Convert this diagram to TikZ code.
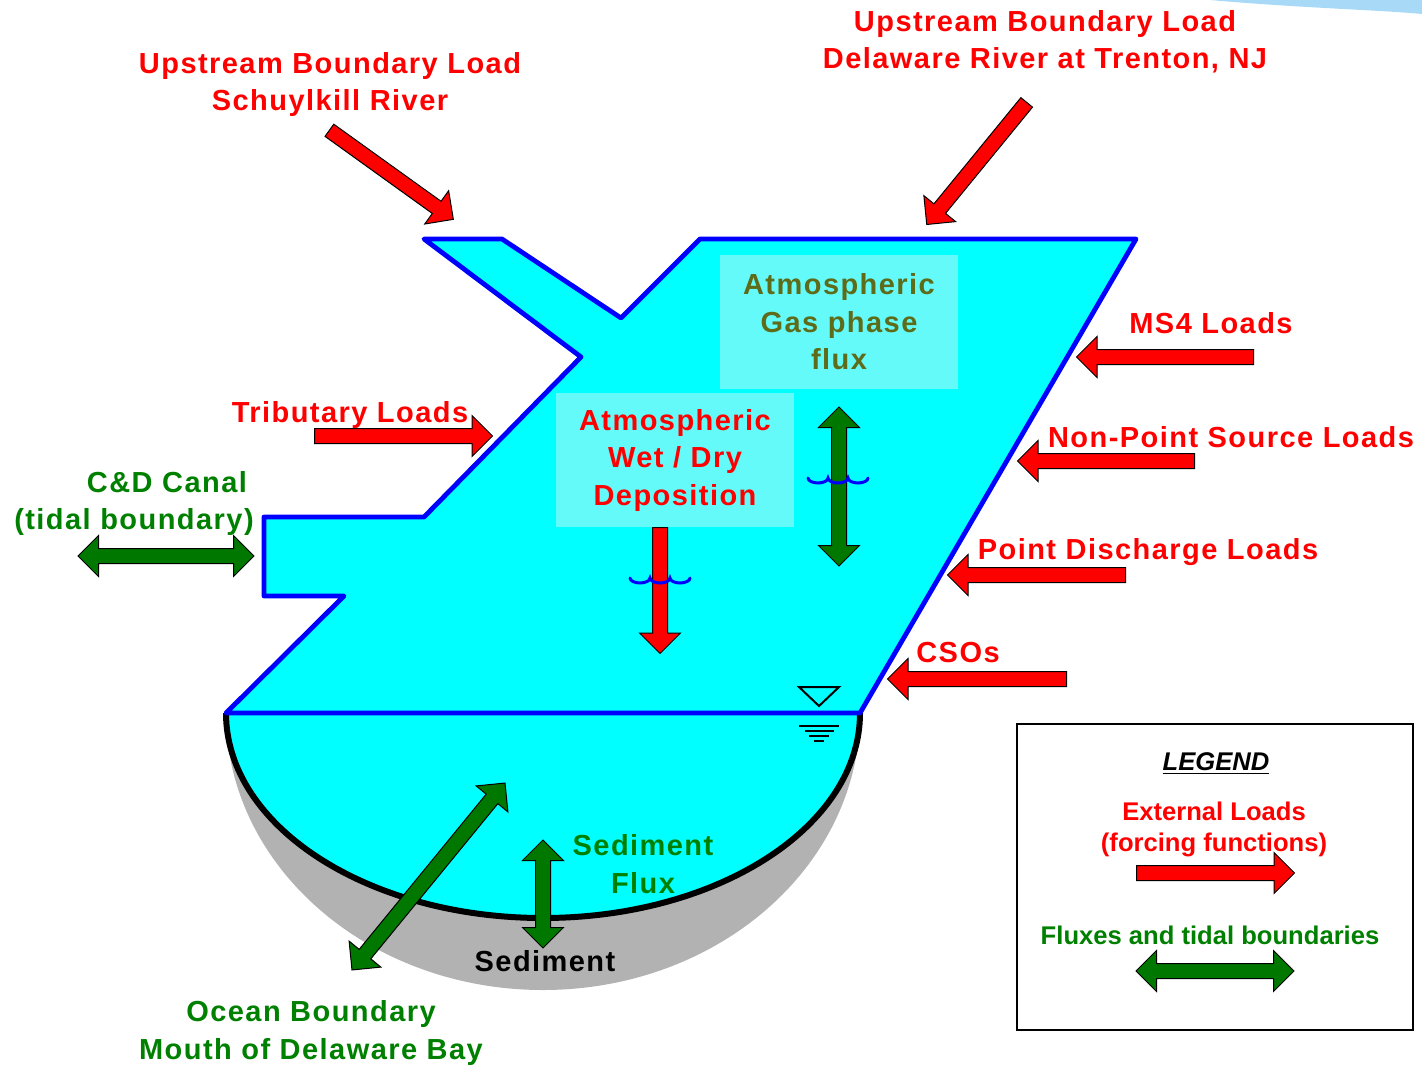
\documentclass[tikz,border=0pt]{standalone}
\usepackage{fontspec}
\setmainfont{Liberation Sans}
\newfontfamily\lblfont{Liberation Sans}[LetterSpace=5]
\usetikzlibrary{shapes.arrows}

\definecolor{loadred}{RGB}{255,0,0}
\definecolor{fluxtxt}{RGB}{0,128,0}
\definecolor{fluxgreen}{RGB}{0,120,0}
\definecolor{gastxt}{RGB}{94,108,26}
\definecolor{water}{RGB}{0,255,255}
\definecolor{waterblue}{RGB}{0,0,255}
\definecolor{panelfill}{RGB}{100,250,250}
\definecolor{sedgrey}{RGB}{178,178,178}
\definecolor{skyblue}{RGB}{168,218,248}

\begin{document}
\begin{tikzpicture}[x=0.5pt,y=-0.5pt,
  lbl/.style={font={\lblfont\bfseries\fontsize{14.5}{18.75}\selectfont},align=center,inner sep=0pt,anchor=base},
  leg/.style={font={\bfseries\fontsize{12.8}{15.5}\selectfont},align=center,inner sep=0pt,anchor=base},
  panel/.style={fill=panelfill,minimum width=119pt,minimum height=67pt,inner sep=0pt,align=center,
                font={\lblfont\bfseries\fontsize{14.5}{18.75}\selectfont}},
  loadarrow/.style={single arrow,draw=black,line width=0.5pt,fill=loadred,inner xsep=0pt,inner ysep=3.5pt,
                    single arrow head extend=6.5pt,single arrow tip angle=90,anchor=tail},
  fluxarrow/.style={double arrow,draw=black,line width=0.5pt,fill=fluxgreen,inner xsep=0pt,inner ysep=3.5pt,
                    double arrow head extend=6.5pt,double arrow tip angle=90},
  wave/.style={waterblue,line width=1.5pt,line cap=round}]

\useasboundingbox (0,0) rectangle (1422,1064);

% corner of the slide background
\fill[skyblue] (1210,0) .. controls (1300,8) and (1380,10) .. (1422,14) -- (1422,0) -- cycle;

% sediment bed and bottom water
\fill[sedgrey] (226,713) arc[start angle=180,end angle=0,x radius=317,y radius=277] -- cycle;
\fill[water] (226,713) arc[start angle=180,end angle=0,x radius=317,y radius=205] -- cycle;
\draw[line width=3pt] (226,713) arc[start angle=180,end angle=0,x radius=317,y radius=205];

% estuary surface
\filldraw[fill=water,draw=waterblue,line width=2.4pt,line join=round]
  (424,239) -- (502,239) -- (621,318) -- (700,239) -- (1136,239) -- (860,713) -- (226,713)
  -- (344,596) -- (264,596) -- (264,517) -- (424,517) -- (581,357) -- cycle;

% water level mark
\draw[line width=1pt] (799,687) -- (839,687) -- (819,706) -- cycle;
\draw[line width=1pt] (799,726) -- (839,726) (805,731) -- (834,731) (809,736) -- (829,736) (814,741) -- (824,741);

% atmospheric panels
\node[panel,text=gastxt] (gas) at (839,322) {Atmospheric\\Gas phase\\flux};
\node[panel,text=loadred] (wetdry) at (675,460) {Atmospheric\\Wet / Dry\\Deposition};

% external loads
\node[loadarrow,minimum height=76.3pt,rotate=-35.7] (aschuyl) at (329,130) {};
\node[loadarrow,minimum height=78.9pt,rotate=-129.3] (atrenton) at (1027,102) {};
\node[loadarrow,minimum height=88.5pt,rotate=180] (ams4) at (1254,357) {};
\node[loadarrow,minimum height=88.5pt,rotate=180] (anps) at (1195,461) {};
\node[loadarrow,minimum height=89pt,rotate=180] (apdl) at (1126,575) {};
\node[loadarrow,minimum height=89.5pt,rotate=180] (acso) at (1067,679) {};
\node[loadarrow,minimum height=89pt] (atrib) at (314,436) {};
\node[loadarrow,minimum height=63pt,rotate=-90] (adep) at (660,527) {};

% fluxes
\node[fluxarrow,minimum height=88pt] (acanal) at (166,556) {};
\node[fluxarrow,minimum height=79.5pt,rotate=90] (agas) at (839,486.5) {};
\node[fluxarrow,minimum height=120.8pt,rotate=50.7] (aocean) at (428.5,876.5) {};
\node[fluxarrow,minimum height=54pt,rotate=90] (ased) at (543,894) {};

% surface waves
\draw[wave] (808,478) arc[start angle=180,end angle=0,x radius=10,y radius=5]
  arc[start angle=180,end angle=0,x radius=10,y radius=5] arc[start angle=180,end angle=0,x radius=10,y radius=5];
\draw[wave] (630,578) arc[start angle=180,end angle=0,x radius=10,y radius=5]
  arc[start angle=180,end angle=0,x radius=10,y radius=5] arc[start angle=180,end angle=0,x radius=10,y radius=5];

% labels (base = last line)
\node[lbl,text=loadred] (schuyl) at (330,111) {Upstream Boundary Load\\Schuylkill River};
\node[lbl,text=loadred] (trenton) at (1045,69) {Upstream Boundary Load\\Delaware River at Trenton, NJ};
\node[lbl,text=loadred] (ms4) at (1211,333) {MS4 Loads};
\node[lbl,text=loadred] (nps) at (1231,447) {Non-Point Source Loads};
\node[lbl,text=loadred] (pdl) at (1148,559) {Point Discharge Loads};
\node[lbl,text=loadred] (cso) at (958,662) {CSOs};
\node[lbl,text=loadred] (trib) at (350,422) {Tributary Loads};
\node[lbl,text=fluxtxt] (canal) at (167,492) {C\&D Canal};
\node[lbl,text=fluxtxt] (tidal) at (134,529) {(tidal boundary)};
\node[lbl,text=fluxtxt] (sedflux) at (643,893) {Sediment\\Flux};
\node[lbl] (sed) at (545,971) {Sediment};
\node[lbl,text=fluxtxt] (ocean) at (311,1059) {Ocean Boundary\\Mouth of Delaware Bay};

% legend
\node[draw,line width=1pt,minimum width=198pt,minimum height=153pt,inner sep=0pt] (legend) at (1215,877) {};
\node[leg] (legtitle) at (1216,770) {\itshape\underline{LEGEND}};
\node[leg,text=loadred] (legload) at (1214,851) {External Loads\\(forcing functions)};
\node[loadarrow,minimum height=79pt] (alegload) at (1136,873) {};
\node[leg,text=fluxtxt] (legflux) at (1210,944) {Fluxes and tidal boundaries};
\node[fluxarrow,minimum height=79pt] (alegflux) at (1215,971) {};

\end{tikzpicture}
\end{document}
